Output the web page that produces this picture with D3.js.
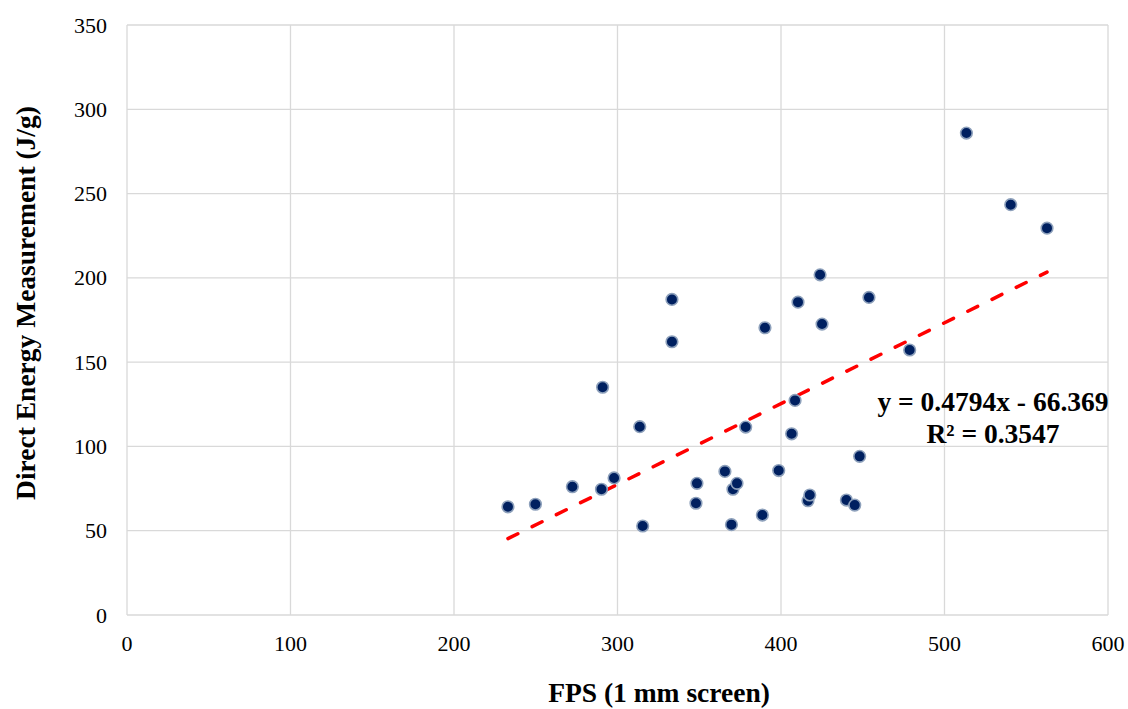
<!DOCTYPE html>
<html>
<head>
<meta charset="utf-8">
<script src="https://cdn.jsdelivr.net/npm/d3@7"></script>
<style>
  body { margin: 0; background: #fff; }
  svg text { font-family: "Liberation Serif", "Times New Roman", serif; fill: #000; }
</style>
</head>
<body>
<svg id="chart" width="1128" height="709"></svg>
<script>
// data
var fps = [233.0, 249.8, 272.4, 290.2, 297.9, 290.9, 313.6, 315.4, 333.3, 333.3,
           348.6, 348.0, 365.7, 370.6, 373.1, 369.7, 390.2, 378.4, 388.6, 398.6,
           410.4, 423.9, 425.1, 453.8, 478.7, 408.6, 406.5, 448.1, 416.5, 417.6,
           440.0, 445.1, 513.4, 540.5, 562.7];
var energy = [64.2, 65.7, 76.1, 74.6, 81.3, 135.1, 111.7, 52.8, 187.2, 162.1,
              78.1, 66.3, 85.2, 74.6, 78.1, 53.6, 170.4, 111.5, 59.3, 85.7,
              185.6, 201.8, 172.6, 188.4, 157.2, 127.3, 107.5, 94.1, 67.8, 71.2,
              68.2, 65.2, 285.9, 243.4, 229.5];
var xTicks = [0, 100, 200, 300, 400, 500, 600];
var yTicks = [0, 50, 100, 150, 200, 250, 300, 350];

// linear trendline from the chart label
var slope = 0.4794, intercept = -66.369;
var eqLines = ["y = 0.4794x - 66.369", "R\u00b2 = 0.3547"];

var svg = d3.select("#chart");

var x = d3.scaleLinear().domain([0, 600]).range([127, 1108]);
var y = d3.scaleLinear().domain([0, 350]).range([615, 25]);

// grid lines
svg.append("g")
	.selectAll("line")
	.data(xTicks)
	.enter().append("line")
	.attr("x1", function (d) { return x(d); })
	.attr("x2", function (d) { return x(d); })
	.attr("y1", y(0))
	.attr("y2", y(350))
	.attr("stroke", "#d9d9d9")
	.attr("stroke-width", 1.3);

svg.append("g")
	.selectAll("line")
	.data(yTicks)
	.enter().append("line")
	.attr("x1", x(0))
	.attr("x2", x(600))
	.attr("y1", function (d) { return y(d); })
	.attr("y2", function (d) { return y(d); })
	.attr("stroke", "#d9d9d9")
	.attr("stroke-width", 1.3);

// tick labels
svg.append("g")
	.selectAll("text")
	.data(xTicks)
	.enter().append("text")
	.attr("x", function (d) { return x(d); })
	.attr("y", 651)
	.attr("text-anchor", "middle")
	.attr("font-size", 22)
	.text(function (d) { return d; });

svg.append("g")
	.selectAll("text")
	.data(yTicks)
	.enter().append("text")
	.attr("x", 107)
	.attr("y", function (d) { return y(d) + 7.5; })
	.attr("text-anchor", "end")
	.attr("font-size", 22)
	.text(function (d) { return d; });

// axis titles
svg.append("text")
	.attr("x", 659)
	.attr("y", 702)
	.attr("text-anchor", "middle")
	.attr("font-size", 27.5)
	.attr("font-weight", "bold")
	.text("FPS (1 mm screen)");

svg.append("text")
	.attr("transform", "translate(35,303) rotate(-90)")
	.attr("text-anchor", "middle")
	.attr("font-size", 27.5)
	.attr("font-weight", "bold")
	.text("Direct Energy Measurement (J/g)");

// trendline
var x0 = d3.min(fps), x1 = d3.max(fps);
svg.append("line")
	.attr("x1", x(x0))
	.attr("y1", y(slope * x0 + intercept))
	.attr("x2", x(x1))
	.attr("y2", y(slope * x1 + intercept))
	.attr("stroke", "#ff0000")
	.attr("stroke-width", 3.5)
	.attr("stroke-linecap", "round")
	.attr("stroke-dasharray", "11,16");

// points
svg.append("g")
	.selectAll("circle")
	.data(fps)
	.enter().append("circle")
	.attr("cx", function (d) { return x(d); })
	.attr("cy", function (d, i) { return y(energy[i]); })
	.attr("r", 5.8)
	.attr("fill", "#002060")
	.attr("stroke", "#8da0bb")
	.attr("stroke-width", 1.6);

// equation label
svg.append("g")
	.selectAll("text")
	.data(eqLines)
	.enter().append("text")
	.attr("x", 993)
	.attr("y", function (d, i) { return 411 + i * 32; })
	.attr("text-anchor", "middle")
	.attr("font-size", 27.5)
	.attr("font-weight", "bold")
	.text(function (d) { return d; });
</script>
</body>
</html>
